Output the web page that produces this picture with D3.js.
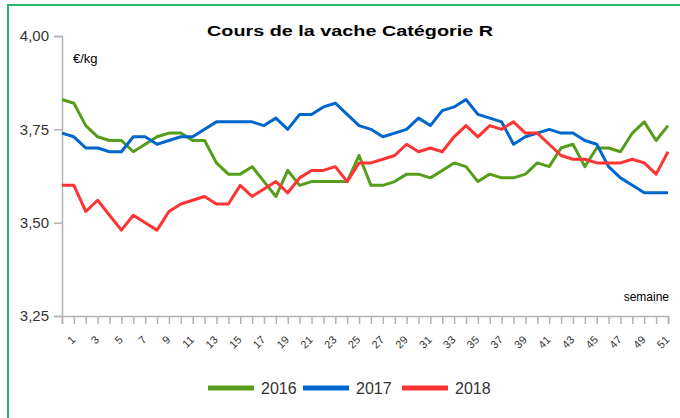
<!DOCTYPE html>
<html>
<head>
<meta charset="utf-8">
<script src="https://cdn.jsdelivr.net/npm/d3@7"></script>
<style>
    body { margin: 0; background: #fff; }
    svg { display: block; font-family: "Liberation Sans", Arial, sans-serif; }
</style>
</head>
<body>
<div id="chart"></div>
<script>
// weeks 1..52
let weeks = d3.range(1, 53);

let values2016 = [3.83, 3.82, 3.76, 3.73, 3.72, 3.72, 3.69, 3.71, 3.73, 3.74, 3.74, 3.72, 3.72, 3.66, 3.63, 3.63,
    3.65, 3.61, 3.57, 3.64, 3.60, 3.61, 3.61, 3.61, 3.61, 3.68, 3.60, 3.60, 3.61, 3.63, 3.63, 3.62, 3.64, 3.66,
    3.65, 3.61, 3.63, 3.62, 3.62, 3.63, 3.66, 3.65, 3.70, 3.71, 3.65, 3.70, 3.70, 3.69, 3.74, 3.77, 3.72, 3.76];

let values2017 = [3.74, 3.73, 3.70, 3.70, 3.69, 3.69, 3.73, 3.73, 3.71, 3.72, 3.73, 3.73, 3.75, 3.77, 3.77, 3.77,
    3.77, 3.76, 3.78, 3.75, 3.79, 3.79, 3.81, 3.82, 3.79, 3.76, 3.75, 3.73, 3.74, 3.75, 3.78, 3.76, 3.80, 3.81,
    3.83, 3.79, 3.78, 3.77, 3.71, 3.73, 3.74, 3.75, 3.74, 3.74, 3.72, 3.71, 3.65, 3.62, 3.60, 3.58, 3.58, 3.58];

let values2018 = [3.60, 3.60, 3.53, 3.56, 3.52, 3.48, 3.52, 3.50, 3.48, 3.53, 3.55, 3.56, 3.57, 3.55, 3.55, 3.60,
    3.57, 3.59, 3.61, 3.58, 3.62, 3.64, 3.64, 3.65, 3.61, 3.66, 3.66, 3.67, 3.68, 3.71, 3.69, 3.70, 3.69, 3.73,
    3.76, 3.73, 3.76, 3.75, 3.77, 3.74, 3.74, 3.71, 3.68, 3.67, 3.67, 3.66, 3.66, 3.66, 3.67, 3.66, 3.63, 3.69];

let seriesNames = ["2016", "2017", "2018"];
let seriesColors = ["#579d1c", "#0066cc", "#ff3333"];
let yTicks = [3.25, 3.50, 3.75, 4.00];

let series = [values2016, values2017, values2018].map((vals, i) => ({
    name: seriesNames[i],
    color: seriesColors[i],
    values: vals.map((v, j) => ({week: weeks[j], value: v}))
}));

let width = 680, height = 418;
let plot = {left: 62, right: 668, top: 36, bottom: 316};

let svg = d3.select("#chart").append("svg")
    .attr("width", width)
    .attr("height", height);

// frame
svg.append("rect")
    .attr("x", 8).attr("y", 5)
    .attr("width", 700).attr("height", 440)
    .attr("fill", "none")
    .attr("stroke", "#2cb46c")
    .attr("stroke-width", 2);

// scales
let xScale = d3.scalePoint()
    .domain(weeks)
    .range([plot.left, plot.right]);

let yScale = d3.scaleLinear()
    .domain([3.25, 4.00])
    .range([plot.bottom, plot.top]);

let fmt = d => d3.format(".2f")(d).replace(".", ",");

// y axis
let yAxisG = svg.append("g")
    .attr("class", "axis y-axis")
    .attr("transform", `translate(${plot.left}, 0)`)
    .call(d3.axisLeft(yScale).tickValues(yTicks).tickFormat(fmt).tickSize(8).tickPadding(5));

// x axis
let xAxisG = svg.append("g")
    .attr("class", "axis x-axis")
    .attr("transform", `translate(0, ${plot.bottom})`)
    .call(d3.axisBottom(xScale).tickSize(8).tickFormat(d => d % 2 === 1 ? d : ""));

svg.selectAll(".axis path, .axis line")
    .attr("stroke", "#b3b3b3")
    .attr("stroke-width", 1.5);

yAxisG.selectAll("text")
    .attr("fill", "#333")
    .style("font-size", "15px");

xAxisG.selectAll("text")
    .attr("fill", "#333")
    .style("font-size", "11px")
    .attr("text-anchor", "end")
    .attr("dy", "0.35em")
    .attr("transform", "translate(3, 14) rotate(-45)");

// lines
let line = d3.line()
    .x(d => xScale(d.week))
    .y(d => yScale(d.value));

svg.append("g").selectAll("path.series")
    .data(series)
    .enter().append("path")
    .attr("class", "series")
    .attr("d", d => line(d.values))
    .attr("fill", "none")
    .attr("stroke", d => d.color)
    .attr("stroke-width", 3)
    .attr("stroke-linejoin", "round");

// title and axis labels
svg.append("text")
    .attr("x", 350).attr("y", 36)
    .attr("text-anchor", "middle")
    .attr("textLength", 286)
    .attr("lengthAdjust", "spacingAndGlyphs")
    .style("font-size", "15px")
    .style("font-weight", "bold")
    .text("Cours de la vache Catégorie R");

svg.append("text")
    .attr("x", 73).attr("y", 63)
    .style("font-size", "13px")
    .text("€/kg");

svg.append("text")
    .attr("x", 669).attr("y", 301)
    .attr("text-anchor", "end")
    .style("font-size", "12px")
    .text("semaine");

// legend
let legendX = [208, 303, 402];
let legend = svg.append("g").attr("class", "legend")
    .selectAll("g")
    .data(series)
    .enter().append("g")
    .attr("transform", (d, i) => `translate(${legendX[i]}, 388)`);

legend.append("line")
    .attr("x1", 0).attr("x2", 46)
    .attr("stroke", d => d.color)
    .attr("stroke-width", 5);

legend.append("text")
    .attr("x", 53)
    .attr("dy", "0.35em")
    .style("font-size", "16px")
    .attr("fill", "#333")
    .text(d => d.name);
</script>
</body>
</html>
